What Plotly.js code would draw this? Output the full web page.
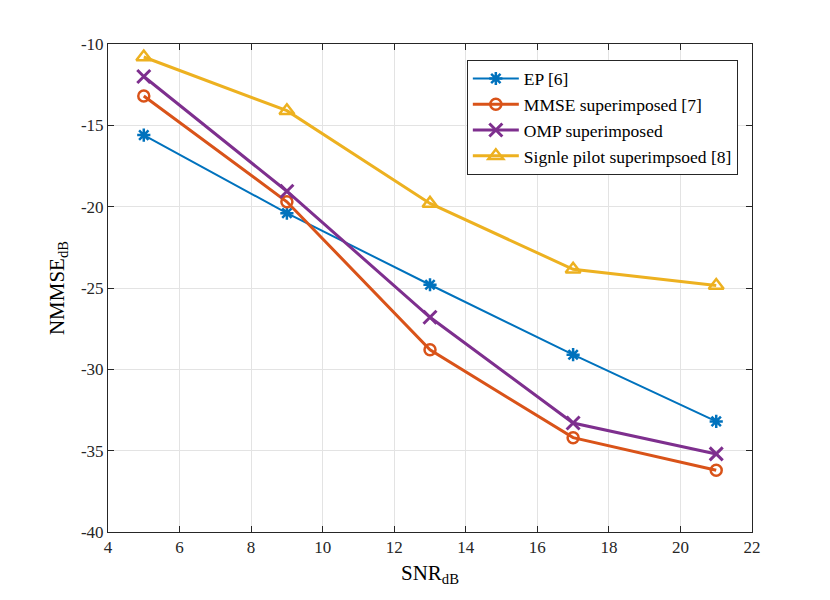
<!DOCTYPE html>
<html>
<head>
<meta charset="utf-8">
<script src="https://cdn.plot.ly/plotly-3.0.1.min.js"></script>
<style>html,body{margin:0;padding:0;background:#fff;}#chart{width:830px;height:600px;}</style>
</head>
<body>
<div id="chart"></div>
<script>
var snr = [5, 9, 13, 17, 21];
var epValues = [-15.6, -20.4, -24.8, -29.1, -33.2];
var mmseValues = [-13.2, -19.7, -28.8, -34.2, -36.2];
var ompValues = [-12.0, -19.05, -26.8, -33.3, -35.2];
var singleValues = [-10.8, -14.1, -19.8, -23.85, -24.85];
var seriesNames = ['EP [6]', 'MMSE superimposed [7]', 'OMP superimposed', 'Signle pilot superimpsoed [8]'];
var xTicks = [4, 6, 8, 10, 12, 14, 16, 18, 20, 22];
var yTicks = [-40, -35, -30, -25, -20, -15, -10];

var font = 'Liberation Serif';
var traces = [
  {x: snr, y: epValues, name: seriesNames[0], mode: 'lines+markers',
   line: {color: '#0072BD', width: 2},
   marker: {symbol: 'asterisk-open', size: 11, color: '#0072BD', line: {color: '#0072BD', width: 2.5}}},
  {x: snr, y: mmseValues, name: seriesNames[1], mode: 'lines+markers',
   line: {color: '#D95319', width: 3},
   marker: {symbol: 'circle-open', size: 11, color: '#D95319', line: {color: '#D95319', width: 2.5}}},
  {x: snr, y: ompValues, name: seriesNames[2], mode: 'lines+markers',
   line: {color: '#7E2F8E', width: 3},
   marker: {symbol: 'x-thin-open', size: 13, color: '#7E2F8E', line: {color: '#7E2F8E', width: 3}}},
  {x: snr, y: singleValues, name: seriesNames[3], mode: 'lines+markers',
   line: {color: '#EDB120', width: 3},
   marker: {symbol: 'triangle-up-open', size: 13, color: '#EDB120', line: {color: '#EDB120', width: 2.5}}}
];

var layout = {
  width: 830, height: 600,
  paper_bgcolor: '#fff', plot_bgcolor: '#fff',
  margin: {l: 108, r: 78, t: 44, b: 68},
  font: {family: font, size: 16, color: '#262626'},
  showlegend: true,
  legend: {x: 0.978, y: 0.968, xanchor: 'right', yanchor: 'top',
    bgcolor: '#fff', bordercolor: '#262626', borderwidth: 1,
    itemwidth: 46,
    font: {family: font, size: 17.5, color: '#000'}, tracegroupgap: 0},
  xaxis: {range: [4, 22], tickvals: xTicks, ticktext: xTicks.map(String),
    showgrid: true, gridcolor: '#e3e3e3', gridwidth: 1, zeroline: false,
    showline: true, linecolor: '#262626', linewidth: 1, mirror: 'ticks',
    ticks: 'inside', ticklen: 6, tickcolor: '#262626',
    tickfont: {family: font, size: 17, color: '#262626'},
    title: {text: 'SNR<sub>dB</sub>', font: {family: font, size: 21, color: '#000'}, standoff: 8}},
  yaxis: {range: [-40, -10], tickvals: yTicks, ticktext: yTicks.map(String),
    showgrid: true, gridcolor: '#e3e3e3', gridwidth: 1, zeroline: false,
    showline: true, linecolor: '#262626', linewidth: 1, mirror: 'ticks',
    ticks: 'inside', ticklen: 6, tickcolor: '#262626',
    tickfont: {family: font, size: 17, color: '#262626'},
    title: {text: 'NMMSE<sub>dB</sub>', font: {family: font, size: 21, color: '#000'}, standoff: 10}}
};

Plotly.newPlot('chart', traces, layout, {displayModeBar: false, staticPlot: true});
</script>
</body>
</html>
